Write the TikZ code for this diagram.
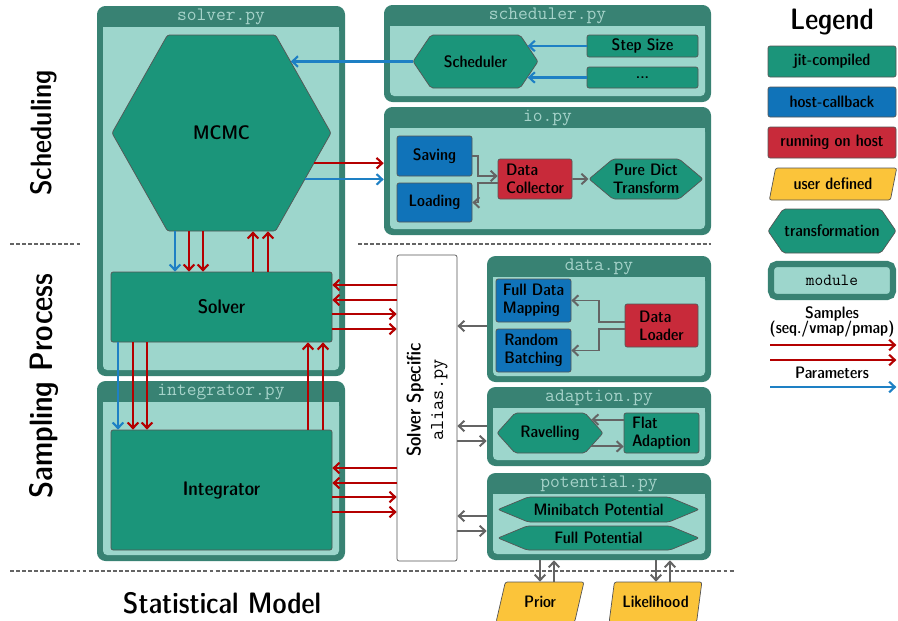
\documentclass[tikz,border=0pt]{standalone}
\usepackage{fontspec}
\setsansfont{lmsansdemicond10-regular.otf}
\usetikzlibrary{shapes.geometric,shapes.symbols,arrows.meta}

\definecolor{jitgreen}{HTML}{1B957A}
\definecolor{cbblue}{HTML}{1073B9}
\definecolor{hostred}{HTML}{C82A3A}
\definecolor{useryellow}{HTML}{FBC43A}
\definecolor{moddark}{HTML}{388273}
\definecolor{modlight}{HTML}{9DD6CC}
\definecolor{modtitle}{HTML}{A6D3CA}
\definecolor{samplered}{HTML}{B40000}
\definecolor{parblue}{HTML}{1E80C4}
\definecolor{flowgray}{HTML}{646464}
\definecolor{edgegray}{HTML}{555555}

\newcommand*{\unitpx}{0.025cm}

% module frame: name, x1, y1, x2, y2, file
\newcommand{\pymodule}[6]{%
  \node[modframe, cell={#2}{#3}{#4}{#5}] (#1) {};
  \fill[modlight, rounded corners=3pt] (#2+6,#3+21) rectangle (#4-6,#5-6);
  \fill[modlight] (#2+6,#3+21) rectangle (#4-6,#3+27);
  \node[modname] (#1-name) at ({(#2+#4)/2},#3+11) {#6};
}

\begin{document}
\begin{tikzpicture}[x=0.025cm, y=-0.025cm,
  cell/.style n args={4}{at={({(#1+#3)/2},{(#2+#4)/2})},
    minimum width={(#3-#1)*\unitpx}, minimum height={(#4-#2)*\unitpx}},
  base/.style={draw=edgegray, line width=0.5pt, inner sep=0pt, rounded corners=1.5pt,
    font=\sffamily\fontsize{11.8}{12.8}\selectfont},
  bigtext/.style={font=\sffamily\fontsize{14}{15}\selectfont},
  jit/.style={base, fill=jitgreen, align=left},
  callback/.style={base, fill=cbblue, align=left},
  onhost/.style={base, fill=hostred, align=left},
  userdef/.style={base, fill=useryellow, trapezium, trapezium left angle=70,
    trapezium right angle=110, trapezium stretches},
  trafo/.style={base, fill=jitgreen, signal, signal to=west and east, align=center},
  modframe/.style={fill=moddark, rounded corners=6pt, inner sep=0pt},
  modname/.style={text=modtitle, font=\ttfamily\fontsize{13.5}{14}\selectfont},
  heading/.style={font=\sffamily\fontsize{21}{23}\selectfont},
  tip/.style={-{Straight Barb[length=4pt, width=7.5pt]}},
  sample/.style={tip, samplered, line width=1.5pt},
  param/.style={tip, parblue, line width=1.5pt},
  flow/.style={tip, flowgray, line width=1.4pt},
  level/.style={flowgray, line width=1pt, dash pattern=on 2.8pt off 1.5pt},
]
  \useasboundingbox (0,0) rectangle (898,620);

  % Levels
  \node[heading, rotate=90] (scheduling) at (44,133) {Scheduling};
  \node[heading, rotate=90, font=\sffamily\fontsize{23}{25}\selectfont] (sampling) at (44,386) {Sampling Process};
  \node[heading] (statmodel) at (222,603) {Statistical Model};
  \draw[level] (10,244) -- (82,244);
  \draw[level] (358,244) -- (711,244);
  \draw[level] (10,571) -- (735,571);

  % Modules
  \pymodule{solvermod}{97}{6}{345}{376}{solver.py}
  \pymodule{integmod}{97}{381}{345}{561}{integrator.py}
  \pymodule{schedmod}{384}{5}{711}{102}{scheduler.py}
  \pymodule{iomod}{384}{107}{711}{235}{io.py}
  \pymodule{datamod}{487}{256}{711}{382}{data.py}
  \pymodule{adaptmod}{487}{387}{711}{466}{adaption.py}
  \pymodule{potmod}{487}{473}{711}{560}{potential.py}

  % Solver and integrator
  \node[trafo, cell={112}{35}{331}{231}, signal pointer angle=121, bigtext] (mcmc) {MCMC};
  \node[jit, cell={111}{272}{332}{342}, bigtext] (solver) {Solver};
  \node[jit, cell={111}{430}{332}{550}, bigtext] (integ) {Integrator};

  % Scheduler
  \node[trafo, cell={413}{35}{538}{88}, signal pointer angle=112] (sched) {Scheduler};
  \node[jit, cell={587}{35}{698}{57}] (stepsize) {Step Size};
  \node[jit, cell={587}{67}{698}{88}] (more) {...};

  % IO
  \node[callback, cell={397}{136}{472}{176}] (saving) {Saving};
  \node[callback, cell={397}{183}{472}{222}] (loading) {Loading};
  \node[onhost, cell={498}{159}{572}{199}] (collector) {Data\\Collector};
  \node[trafo, cell={593}{159}{699}{199}, signal pointer angle=80] (puredict) {Pure Dict\\Transform};

  % Alias
  \node[base, fill=white, cell={397}{255}{457}{561}] (alias) {};
  \node[rotate=90, align=center, font=\sffamily\fontsize{14}{16}\selectfont] (aliasname)
    at (427,400) {Solver Specific\\\texttt{alias.py}};

  % Data
  \node[callback, cell={496}{279}{571}{322}] (fulldata) {Full Data\\Mapping};
  \node[callback, cell={496}{329}{571}{372}] (batching) {Random\\Batching};
  \node[onhost, cell={625}{304}{698}{347}] (loader) {Data\\Loader};

  % Adaption
  \node[trafo, cell={497}{413}{603}{453}, signal pointer angle=96] (ravel) {Ravelling};
  \node[jit, cell={624}{413}{699}{453}] (flat) {Flat\\Adaption};

  % Potential
  \node[trafo, cell={498}{497}{699}{522}, signal pointer angle=45] (minipot) {Minibatch Potential};
  \node[trafo, cell={498}{526}{699}{550}, signal pointer angle=45] (fullpot) {Full Potential};

  % Model
  \node[userdef, cell={496}{582}{584}{622}] (prior) {Prior};
  \node[userdef, cell={609}{582}{702}{622}] (likelihood) {Likelihood};

  % Legend
  \node[heading] (legend) at (832,22) {Legend};
  \node[jit, cell={768}{46}{896}{77}] (leg-jit) {jit-compiled};
  \node[callback, cell={768}{87}{896}{117}] (leg-cb) {host-callback};
  \node[onhost, cell={768}{127}{896}{158}] (leg-host) {running on host};
  \node[userdef, cell={769}{168}{897}{200}] (leg-user) {user defined};
  \node[trafo, cell={768}{209}{896}{253}, signal pointer angle=111] (leg-trafo) {transformation};
  \node[draw=moddark, fill=modlight, line width=4.3pt, rounded corners=4pt, inner sep=0pt,
    cell={771}{264}{893}{297}, font=\ttfamily\fontsize{12}{12}\selectfont] (leg-mod) {module};
  \node[align=center, font=\sffamily\fontsize{11.8}{11}\selectfont] (leg-samples) at (832,322)
    {Samples\\(seq./vmap/pmap)};
  \node[font=\sffamily\fontsize{11.8}{12}\selectfont] (leg-params) at (832,373) {Parameters};
  \coordinate (leg-s1) at (770,345);
  \coordinate (leg-s2) at (770,360);
  \coordinate (leg-p) at (770,387);
  \draw[sample] (leg-s1) -- (leg-s1 -| leg-jit.east);
  \draw[sample] (leg-s2) -- (leg-s2 -| leg-jit.east);
  \draw[param] (leg-p) -- (leg-p -| leg-jit.east);

  % Scheduler arrows
  \draw[param] (stepsize.west) -- (stepsize.west -| sched.17);
  \draw[param] (more.west) -- (more.west -| sched.-17);
  \draw[param] (sched.west) -- (sched.west -| mcmc.46);

  % MCMC to io
  \draw[sample] (mcmc.-18) -- (mcmc.-18 -| iomod.west);
  \draw[param] (mcmc.-29) -- (mcmc.-29 -| iomod.west);

  % io arrows
  \draw[flow] (saving.east) -- (478,156) |- (collector.west |- 0,176);
  \draw[flow] (collector.west |- 0,183) -- (478,183) |- (loading.east);
  \draw[flow] (collector) -- (puredict);

  % MCMC <-> Solver
  \draw[param] (mcmc.south -| 175,0) -- (solver.north -| 175,0);
  \foreach \x in {189,203}
    \draw[sample] (mcmc.south -| \x,0) -- (solver.north -| \x,0);
  \foreach \x in {253,268}
    \draw[sample] (solver.north -| \x,0) -- (mcmc.south -| \x,0);

  % Solver <-> Integrator
  \draw[param] (solver.south -| 118,0) -- (integ.north -| 118,0);
  \foreach \x in {133,147}
    \draw[sample] (solver.south -| \x,0) -- (integ.north -| \x,0);
  \foreach \x in {308,323}
    \draw[sample] (integ.north -| \x,0) -- (solver.south -| \x,0);

  % Solver specific calls
  \foreach \y in {285,300,468,483}
    \draw[sample] (alias.west |- 0,\y) -- (solver.east |- 0,\y);
  \foreach \y in {314,329,497,512}
    \draw[sample] (solver.east |- 0,\y) -- (alias.west |- 0,\y);

  % Data arrows
  \draw[flow] (loader.west |- 0,322) -- (599,322) |- (fulldata.east);
  \draw[flow] (loader.west |- 0,329) -- (599,329) |- (batching.east);
  \draw[flow] (datamod.west |- 0,326) -- (alias.east |- 0,326);

  % Adaption arrows
  \draw[flow] (flat.west |- ravel.18) -- (ravel.18);
  \draw[flow] (ravel.-18) -- (ravel.-18 -| flat.west);
  \draw[flow] (adaptmod.west |- 0,426) -- (alias.east |- 0,426);
  \draw[flow] (alias.east |- 0,441) -- (adaptmod.west |- 0,441);

  % Potential arrows
  \draw[flow] (potmod.west |- 0,516) -- (alias.east |- 0,516);
  \draw[flow] (alias.east |- 0,531) -- (potmod.west |- 0,531);
  \draw[flow] (potmod.south -| 540,0) -- (prior.north -| 540,0);
  \draw[flow] (prior.north -| 554,0) -- (potmod.south -| 554,0);
  \draw[flow] (potmod.south -| 656,0) -- (likelihood.north -| 656,0);
  \draw[flow] (likelihood.north -| 670,0) -- (potmod.south -| 670,0);

\end{tikzpicture}
\end{document}
